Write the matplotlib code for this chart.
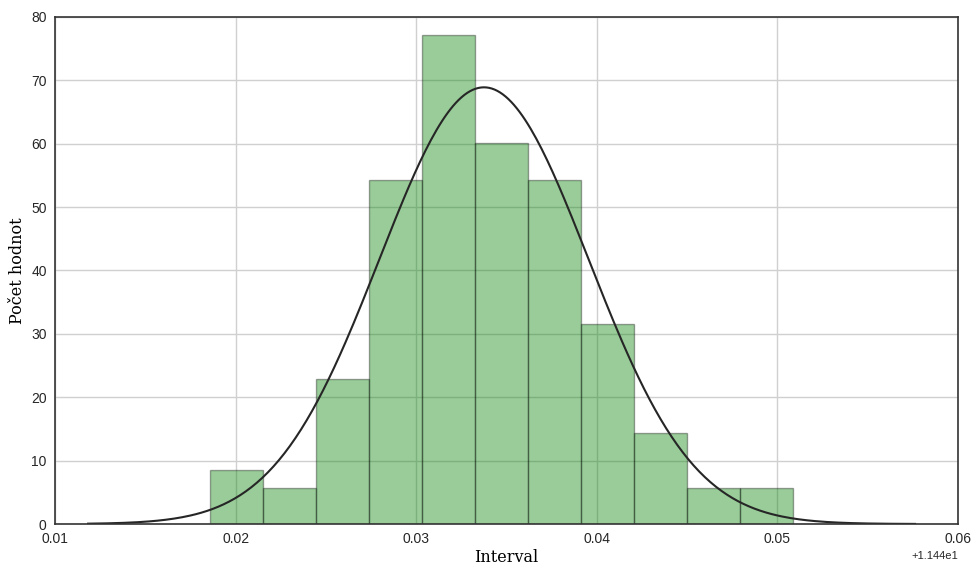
import numpy as np
import matplotlib.pyplot as plt
from matplotlib.ticker import ScalarFormatter

# histogram (density normalised)
base = 11.44
bin_start = 0.01857
bin_width = 0.002938
heights = [8.58, 5.72, 22.9, 54.3, 77.2, 60.1, 54.3, 31.5, 14.3, 5.72, 5.72]

# fitted normal curve
mu = 0.03375
sigma = 0.00579
curve_from = 0.01183
curve_to = 0.05762

plt.rcParams['font.family'] = 'Liberation Sans'

fig = plt.figure(figsize=(9.76, 5.7), dpi=100)
ax = fig.add_axes([0.0564, 0.0807, 0.9252, 0.8895])

lefts = base + bin_start + bin_width * np.arange(len(heights))
ax.bar(lefts, heights, width=bin_width, align='edge',
       color=(0, 0.5, 0, 0.4), edgecolor=(0, 0, 0, 0.35), linewidth=1.0)

xs = np.linspace(base + curve_from, base + curve_to, 300)
pdf = np.exp(-0.5 * ((xs - base - mu) / sigma) ** 2) / (sigma * np.sqrt(2 * np.pi))
ax.plot(xs, pdf, color='#262626', lw=1.5)

ax.set_xlim(base + 0.01, base + 0.06)
ax.set_ylim(0, 80)
fmt = ScalarFormatter(useOffset=base)
ax.xaxis.set_major_formatter(fmt)
ax.grid(True, color='#d0d0d0', lw=1)
ax.set_axisbelow(True)
for s in ax.spines.values():
    s.set_color('#333333')
    s.set_linewidth(1.2)
ax.tick_params(length=0, labelsize=10, pad=6, colors='#262626')
ax.xaxis.get_offset_text().set_fontsize(8)

ax.set_xlabel('Interval', family='DejaVu Serif', fontsize=11.5, labelpad=2)
ax.set_ylabel('Počet hodnot', family='DejaVu Serif', fontsize=11.5, labelpad=4)

fig.savefig('out.png', dpi=100)
